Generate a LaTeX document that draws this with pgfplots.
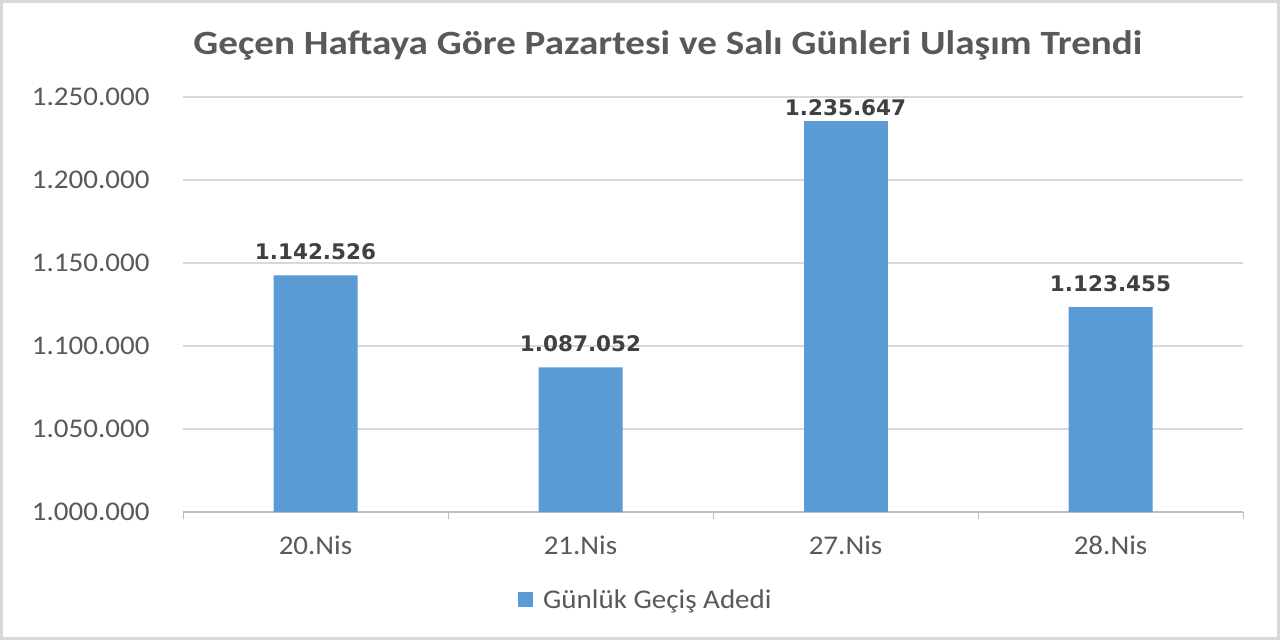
\documentclass[border=0pt]{standalone}
\usepackage{pgfplots}
\pgfplotsset{compat=1.18}
\usepackage{fontspec}
\setmainfont{Carlito}[FakeStretch=1.075]
\newfontfamily\titlefont{Carlito}[FakeStretch=1.15]
\newfontfamily\labfont{DejaVu Sans}
\definecolor{barblue}{HTML}{5B9BD5}
\definecolor{txtgray}{HTML}{595959}
\definecolor{gridgray}{HTML}{D9D9D9}
\definecolor{axgray}{HTML}{BFBFBF}
\definecolor{labdark}{HTML}{404040}
\begin{document}
\begin{tikzpicture}[x=1pt,y=1pt]
\useasboundingbox (0,0) rectangle (1280,640);
\fill[white] (0,0) rectangle (1280,640);
\draw[gridgray, line width=3pt] (1.5,1.5) rectangle (1278.5,638.5);
\node[text=txtgray, font=\fontsize{34}{40}\selectfont\titlefont\bfseries] at (668,595) {Geçen Haftaya Göre Pazartesi ve Salı Günleri Ulaşım Trendi};
\begin{axis}[
  at={(183pt,128pt)}, anchor=south west,
  width=1060pt, height=415pt, scale only axis,
  xmin=-0.5, xmax=3.5, ymin=1000000, ymax=1250000,
  scaled y ticks=false,
  xtick={0,1,2,3}, xticklabels={20.Nis,21.Nis,27.Nis,28.Nis},
  minor xtick={-0.5,0.5,1.5,2.5,3.5},
  major tick length=0pt, minor tick length=7pt,
  tick align=outside,
  every minor tick/.style={axgray, thick},
  ytick={1000000,1050000,1100000,1150000,1200000,1250000},
  yticklabels={1.000.000,1.050.000,1.100.000,1.150.000,1.200.000,1.250.000},
  ymajorgrids, grid style={gridgray, line width=1.2pt},
  axis x line*=bottom, axis y line*=left,
  x axis line style={axgray, line width=1.2pt, -},
  y axis line style={draw=none},
  ticklabel style={text=txtgray, font=\fontsize{27}{32}\selectfont},
  yticklabel style={xshift=-30pt},
  xticklabel style={yshift=-20pt},
  ybar, bar width=84pt, bar shift=0pt,
  nodes near coords,
  nodes near coords style={text=labdark, font=\fontsize{21.5}{26}\selectfont\labfont\bfseries, /pgf/number format/fixed, /pgf/number format/precision=0, /pgf/number format/1000 sep={.}, /pgf/number format/assume math mode=true},
  legend style={at={(0.316,-0.212)}, anchor=west, draw=none, fill=none, inner sep=0pt, nodes={inner sep=0pt}, font=\fontsize{27}{32}\selectfont, text=txtgray},
  legend image code/.code={\fill[barblue] (0pt,-7.5pt) rectangle (15pt,7.5pt); \path (25pt,0pt);},
  clip=false,
]
\addplot[fill=barblue, draw=none, nodes near coords style={yshift=12pt}] coordinates {(0,1142526) (1,1087052) (3,1123455)};
\addlegendentry{Günlük Geçiş Adedi}
\addplot[fill=barblue, draw=none, forget plot, nodes near coords style={yshift=1pt}] coordinates {(2,1235647)};
\end{axis}
\end{tikzpicture}
\end{document}
